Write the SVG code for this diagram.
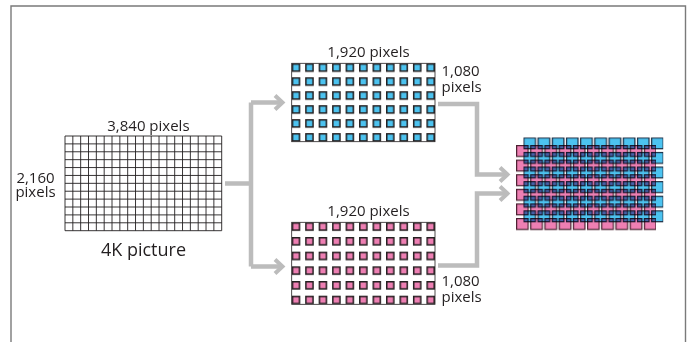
<svg xmlns="http://www.w3.org/2000/svg" width="690" height="342" viewBox="0 0 690 342">
<style>
text{font-family:"Open Sans","Noto Sans","Liberation Sans",sans-serif;fill:#231f20}
.lbl{font-size:15px}
.big{font-size:18px}
.conn{fill:none;stroke:#bcbcbc;stroke-width:4.5}
.head{fill:none;stroke:#bcbcbc;stroke-width:4}
.grid{fill:none;stroke:#231f20;stroke-width:0.9}
</style>
<defs>
<pattern id="pb" patternUnits="userSpaceOnUse" x="291.7" y="63.3" width="13.47" height="13.96">
<rect x="0.75" y="0.75" width="7.1" height="7.1" fill="#4cc3f0" stroke="#231f20" stroke-width="1.5"/>
</pattern>
<pattern id="pp" patternUnits="userSpaceOnUse" x="291.7" y="222.3" width="13.47" height="14.68">
<rect x="0.75" y="0.75" width="7.1" height="7.1" fill="#ee7fb3" stroke="#231f20" stroke-width="1.5"/>
</pattern>
<pattern id="cp" patternUnits="userSpaceOnUse" x="516" y="145" width="14.2" height="14.6">
<rect x="0.6" y="0.6" width="11.6" height="10.8" fill="#ee7fb3" stroke="#4a2030" stroke-width="1.2"/>
</pattern>
<pattern id="cb" patternUnits="userSpaceOnUse" x="523.3" y="137.3" width="14.2" height="14.6">
<rect x="0.6" y="0.6" width="11.6" height="10.8" fill="#4cc3f0" stroke="#1a2a40" stroke-width="1.2"/>
</pattern>
</defs>
<rect x="0" y="0" width="690" height="342" fill="#fff"/>
<path d="M11 342V6H685.5V342" fill="none" stroke="#7a7a7a" stroke-width="1.4"/>

<g id="connectors">
<path class="conn" d="M225 183.5H251M251 102.5V266.5M251 102.5H282M251 266.5H282"/>
<path class="head" d="M275 95.5L282.5 102.5L275 109.5M275 259.5L282.5 266.5L275 273.5"/>
<path class="conn" d="M438 104H477V174.5H507M438 265.5H477V193.5H507"/>
<path class="head" d="M500 167.5L507.5 174.5L500 181.5M500 186.5L507.5 193.5L500 200.5"/>
</g>

<g id="picture4k">
<path class="grid" d="M65 136H221.7V230.7H65Z M72.84 136V230.7M80.67 136V230.7M88.51 136V230.7M96.34 136V230.7M104.18 136V230.7M112.01 136V230.7M119.85 136V230.7M127.68 136V230.7M135.52 136V230.7M143.35 136V230.7M151.19 136V230.7M159.02 136V230.7M166.86 136V230.7M174.69 136V230.7M182.53 136V230.7M190.36 136V230.7M198.2 136V230.7M206.03 136V230.7M213.87 136V230.7 M65 143.89H221.7M65 151.78H221.7M65 159.67H221.7M65 167.56H221.7M65 175.45H221.7M65 183.34H221.7M65 191.23H221.7M65 199.12H221.7M65 207.01H221.7M65 214.9H221.7M65 222.79H221.7"/>
<text class="lbl" x="148.4" y="130.5" text-anchor="middle">3,840 pixels</text>
<text class="lbl" x="35.5" y="183" text-anchor="middle">2,160</text>
<text class="lbl" x="35.5" y="197" text-anchor="middle">pixels</text>
<text class="big" x="143.5" y="256" text-anchor="middle">4K picture</text>
</g>

<g id="blue-frame">
<rect x="291.7" y="63.3" width="143.3" height="78.4" fill="url(#pb)"/>
<rect x="291.7" y="63.3" width="143.3" height="78.4" fill="none" stroke="#231f20" stroke-width="0.8"/>
<text class="lbl" x="368.5" y="56.5" text-anchor="middle">1,920 pixels</text>
<text class="lbl" x="441.5" y="76">1,080</text>
<text class="lbl" x="441.5" y="92">pixels</text>
</g>

<g id="pink-frame">
<rect x="291.7" y="222.3" width="143.3" height="82" fill="url(#pp)"/>
<rect x="291.7" y="222.3" width="143.3" height="82" fill="none" stroke="#231f20" stroke-width="0.8"/>
<text class="lbl" x="368.5" y="215.5" text-anchor="middle">1,920 pixels</text>
<text class="lbl" x="441.5" y="285.5">1,080</text>
<text class="lbl" x="441.5" y="301.5">pixels</text>
</g>

<g id="combined">
<rect x="516" y="145" width="140" height="86" fill="url(#cp)"/>
<rect x="523.3" y="137.3" width="140" height="86" fill="url(#cb)" style="mix-blend-mode:multiply"/>
</g>
</svg>
